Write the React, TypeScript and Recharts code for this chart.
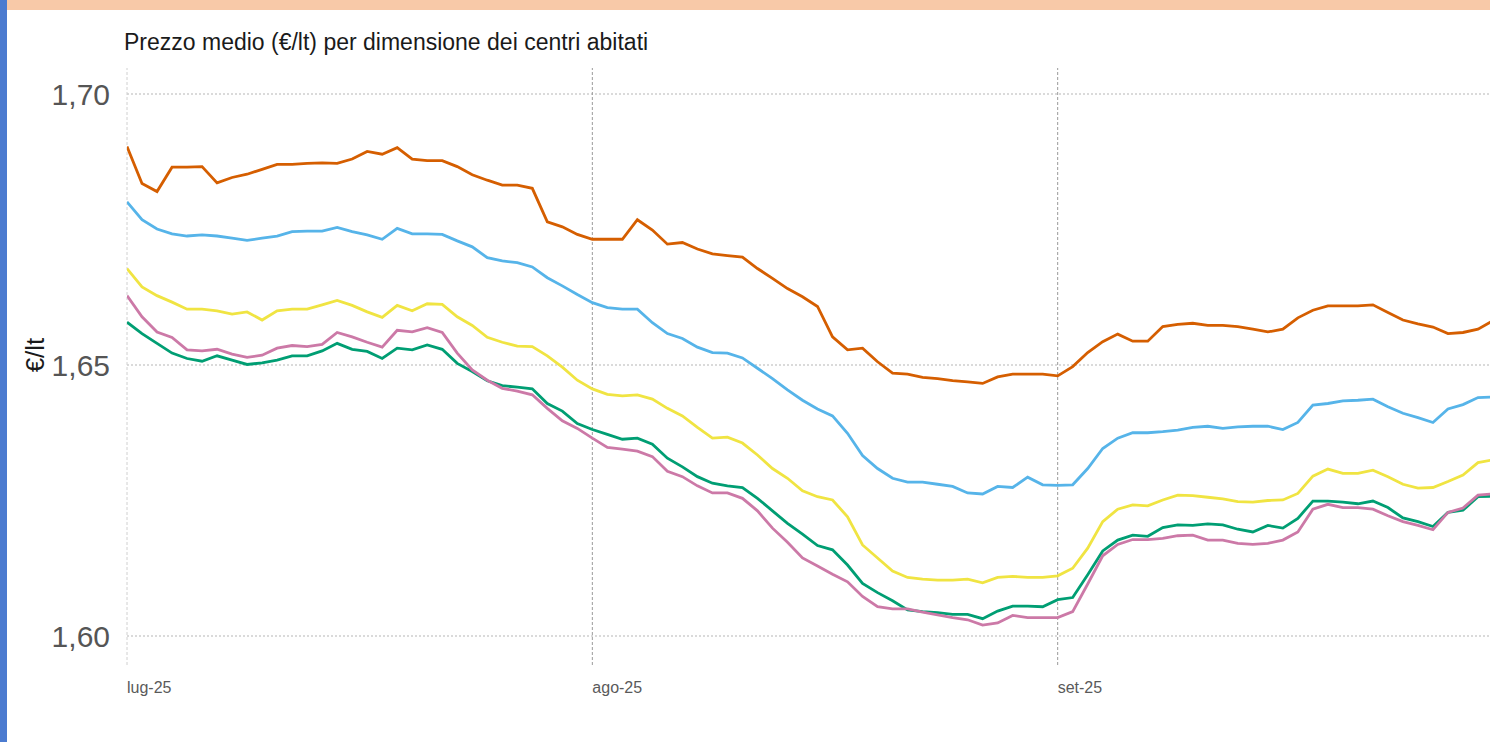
import React from 'react';
import { LineChart, Line, XAxis, YAxis, ReferenceLine } from 'recharts';

// Day offsets from 1 July 2025 are the array index of each value.
const orange = [
  1.6903, 1.6835, 1.6820, 1.6865, 1.6865, 1.6866, 1.6836, 1.6846, 1.6852, 1.6861,
  1.6870, 1.6870, 1.6872, 1.6873, 1.6872, 1.6880, 1.6894, 1.6889, 1.6901, 1.6880,
  1.6877, 1.6877, 1.6866, 1.6851, 1.6841, 1.6832, 1.6832, 1.6826, 1.6764, 1.6755,
  1.6741, 1.6732, 1.6732, 1.6732, 1.6768, 1.6749, 1.6723, 1.6726, 1.6714, 1.6705,
  1.6702, 1.6699, 1.6678, 1.6660, 1.6641, 1.6626, 1.6608, 1.6552, 1.6528, 1.6531,
  1.6506, 1.6485, 1.6483, 1.6477, 1.6475, 1.6471, 1.6469, 1.6466, 1.6478, 1.6483,
  1.6483, 1.6483, 1.6480, 1.6497, 1.6523, 1.6543, 1.6557, 1.6544, 1.6544, 1.6571,
  1.6575, 1.6577, 1.6573, 1.6573, 1.6571, 1.6566, 1.6561, 1.6566, 1.6587, 1.6601,
  1.6609, 1.6609, 1.6609, 1.6611, 1.6597, 1.6583, 1.6576, 1.6570, 1.6558, 1.6560,
  1.6566, 1.6582,
];

const blue = [
  1.6801, 1.6768, 1.6751, 1.6742, 1.6738, 1.6740, 1.6738, 1.6734, 1.6730, 1.6734,
  1.6738, 1.6746, 1.6747, 1.6747, 1.6754, 1.6746, 1.6740, 1.6732, 1.6752, 1.6742,
  1.6742, 1.6741, 1.6729, 1.6718, 1.6698, 1.6692, 1.6689, 1.6681, 1.6661, 1.6646,
  1.6630, 1.6615, 1.6606, 1.6603, 1.6603, 1.6578, 1.6558, 1.6549, 1.6533, 1.6523,
  1.6522, 1.6513, 1.6494, 1.6475, 1.6454, 1.6435, 1.6419, 1.6406, 1.6374, 1.6333,
  1.6309, 1.6291, 1.6284, 1.6284, 1.6280, 1.6276, 1.6264, 1.6262, 1.6276, 1.6274,
  1.6293, 1.6279, 1.6278, 1.6279, 1.6309, 1.6346, 1.6365, 1.6375, 1.6375, 1.6377,
  1.6380, 1.6385, 1.6387, 1.6383, 1.6386, 1.6387, 1.6387, 1.6381, 1.6394, 1.6426,
  1.6429, 1.6434, 1.6435, 1.6437, 1.6423, 1.6411, 1.6403, 1.6394, 1.6419, 1.6427,
  1.6440, 1.6441,
];

const yellow = [
  1.6678, 1.6644, 1.6628, 1.6616, 1.6603, 1.6603, 1.6600, 1.6594, 1.6598, 1.6583,
  1.6600, 1.6603, 1.6603, 1.6611, 1.6619, 1.6610, 1.6598, 1.6588, 1.6610, 1.6600,
  1.6613, 1.6612, 1.6589, 1.6573, 1.6551, 1.6542, 1.6535, 1.6534, 1.6517, 1.6496,
  1.6472, 1.6456, 1.6446, 1.6443, 1.6445, 1.6437, 1.6420, 1.6406, 1.6385, 1.6365,
  1.6367, 1.6356, 1.6334, 1.6309, 1.6291, 1.6268, 1.6257, 1.6251, 1.6220, 1.6168,
  1.6144, 1.6120, 1.6108, 1.6105, 1.6103, 1.6103, 1.6105, 1.6098, 1.6108, 1.6110,
  1.6108, 1.6108, 1.6111, 1.6125, 1.6162, 1.6211, 1.6234, 1.6242, 1.6240, 1.6251,
  1.6260, 1.6259, 1.6256, 1.6253, 1.6248, 1.6247, 1.6250, 1.6251, 1.6263, 1.6295,
  1.6308, 1.6300, 1.6300, 1.6306, 1.6294, 1.6280, 1.6273, 1.6274, 1.6285, 1.6297,
  1.6320, 1.6325,
];

const green = [
  1.6579, 1.6558, 1.6540, 1.6522, 1.6512, 1.6507, 1.6517, 1.6509, 1.6501, 1.6504,
  1.6509, 1.6517, 1.6517, 1.6526, 1.6540, 1.6529, 1.6525, 1.6512, 1.6531, 1.6528,
  1.6537, 1.6529, 1.6503, 1.6488, 1.6471, 1.6462, 1.6459, 1.6456, 1.6429, 1.6415,
  1.6392, 1.6381, 1.6372, 1.6363, 1.6365, 1.6354, 1.6328, 1.6312, 1.6294, 1.6282,
  1.6277, 1.6274, 1.6254, 1.6231, 1.6208, 1.6188, 1.6167, 1.6159, 1.6131, 1.6097,
  1.6080, 1.6065, 1.6048, 1.6045, 1.6043, 1.6040, 1.6040, 1.6032, 1.6046, 1.6055,
  1.6055, 1.6054, 1.6067, 1.6071, 1.6113, 1.6157, 1.6177, 1.6186, 1.6184, 1.6200,
  1.6205, 1.6204, 1.6207, 1.6205, 1.6197, 1.6192, 1.6204, 1.6199, 1.6217, 1.6249,
  1.6249, 1.6247, 1.6244, 1.6249, 1.6237, 1.6218, 1.6211, 1.6202, 1.6228, 1.6232,
  1.6257, 1.6258,
];

const pink = [
  1.6628, 1.6589, 1.6561, 1.6551, 1.6528, 1.6526, 1.6529, 1.6520, 1.6514, 1.6518,
  1.6531, 1.6536, 1.6534, 1.6538, 1.6560, 1.6552, 1.6542, 1.6533, 1.6564, 1.6561,
  1.6569, 1.6560, 1.6522, 1.6491, 1.6472, 1.6457, 1.6452, 1.6445, 1.6420, 1.6397,
  1.6383, 1.6365, 1.6348, 1.6345, 1.6341, 1.6331, 1.6304, 1.6294, 1.6277, 1.6264,
  1.6264, 1.6254, 1.6231, 1.6199, 1.6173, 1.6144, 1.6129, 1.6114, 1.6100, 1.6073,
  1.6054, 1.6050, 1.6050, 1.6044, 1.6039, 1.6034, 1.6030, 1.6020, 1.6024, 1.6038,
  1.6034, 1.6034, 1.6034, 1.6045, 1.6096, 1.6148, 1.6169, 1.6178, 1.6178, 1.6180,
  1.6185, 1.6186, 1.6177, 1.6177, 1.6171, 1.6169, 1.6171, 1.6177, 1.6192, 1.6234,
  1.6243, 1.6237, 1.6237, 1.6234, 1.6222, 1.6211, 1.6204, 1.6196, 1.6228, 1.6236,
  1.6260, 1.6262,
];

const xTickDays = [0, 31, 62];
const xTickLabels = ['lug-25', 'ago-25', 'set-25'];
const yTicks = [1.6, 1.65, 1.7];

const title = 'Prezzo medio (€/lt) per dimensione dei centri abitati';
const yLabel = '€/lt';

const data = orange.map((v, i) => ({
  d: i,
  orange: v,
  blue: blue[i],
  yellow: yellow[i],
  green: green[i],
  pink: pink[i],
}));

const FONT = '"Liberation Sans", Arial, sans-serif';

const YTick = (props: any) => {
  const { x, y, payload } = props;
  return (
    <text x={x} y={y} dy={10.5} textAnchor="end" fill="#555" fontSize={30} fontFamily={FONT}>
      {Number(payload.value).toFixed(2).replace('.', ',')}
    </text>
  );
};

const XTick = (props: any) => {
  const { x, y, payload } = props;
  const idx = xTickDays.indexOf(payload.value);
  return (
    <text x={x} y={y} dy={28} textAnchor="start" fill="#5a5a5a" fontSize={16} fontFamily={FONT}>
      {idx >= 0 ? xTickLabels[idx] : ''}
    </text>
  );
};

export default function App() {
  return (
    <div style={{ position: 'absolute', left: 0, top: 0, width: 1490, height: 742, background: '#fff', overflow: 'hidden' }}>
      <div style={{ position: 'absolute', left: 0, top: 0, width: 1490, height: 10, background: '#F8C9A8' }} />
      <div style={{ position: 'absolute', left: 0, top: 0, width: 7, height: 742, background: '#4B7BD0' }} />
      <div
        style={{
          position: 'absolute', left: 124, top: 29, fontFamily: FONT, fontSize: 23, color: '#1a1a1a',
          whiteSpace: 'nowrap', lineHeight: '26px',
        }}
      >
        {title}
      </div>
      <div
        style={{
          position: 'absolute', left: 35, top: 355, fontFamily: FONT, fontSize: 26, color: '#1a1a1a',
          whiteSpace: 'nowrap', transform: 'translate(-50%, -50%) rotate(-90deg)', lineHeight: '28px',
        }}
      >
        {yLabel}
      </div>
      <div style={{ position: 'absolute', left: 0, top: 0 }}>
        <LineChart width={1490} height={742} data={data} margin={{ top: 68, right: 0, bottom: 0, left: 0 }}>
          <XAxis
            dataKey="d"
            type="number"
            domain={[0, 90.8]}
            allowDataOverflow
            ticks={xTickDays}
            axisLine={false}
            tickLine={false}
            tickSize={0}
            tickMargin={0}
            height={77}
            interval={0}
            tick={<XTick />}
          />
          <YAxis
            type="number"
            domain={[1.59465, 1.7048]}
            allowDataOverflow
            ticks={yTicks}
            axisLine={false}
            tickLine={false}
            tickSize={0}
            tickMargin={17}
            width={127}
            interval={0}
            tick={<YTick />}
          />
          {yTicks.map((t) => (
            <ReferenceLine key={'h' + t} y={t} stroke="#b5b5b5" strokeDasharray="2 2" strokeWidth={1} />
          ))}
          {xTickDays.map((t) => (
            <ReferenceLine
              key={'v' + t}
              x={t}
              stroke={t === 0 ? '#d0d0d0' : '#9a9a9a'}
              strokeDasharray="3 2"
              strokeWidth={1}
            />
          ))}
          <Line type="linear" dataKey="orange" stroke="#D55E00" strokeWidth={2.8} dot={false} isAnimationActive={false} />
          <Line type="linear" dataKey="blue" stroke="#56B4E9" strokeWidth={2.8} dot={false} isAnimationActive={false} />
          <Line type="linear" dataKey="yellow" stroke="#F0E442" strokeWidth={2.8} dot={false} isAnimationActive={false} />
          <Line type="linear" dataKey="green" stroke="#009E73" strokeWidth={2.8} dot={false} isAnimationActive={false} />
          <Line type="linear" dataKey="pink" stroke="#CC79A7" strokeWidth={2.8} dot={false} isAnimationActive={false} />
        </LineChart>
      </div>
    </div>
  );
}
